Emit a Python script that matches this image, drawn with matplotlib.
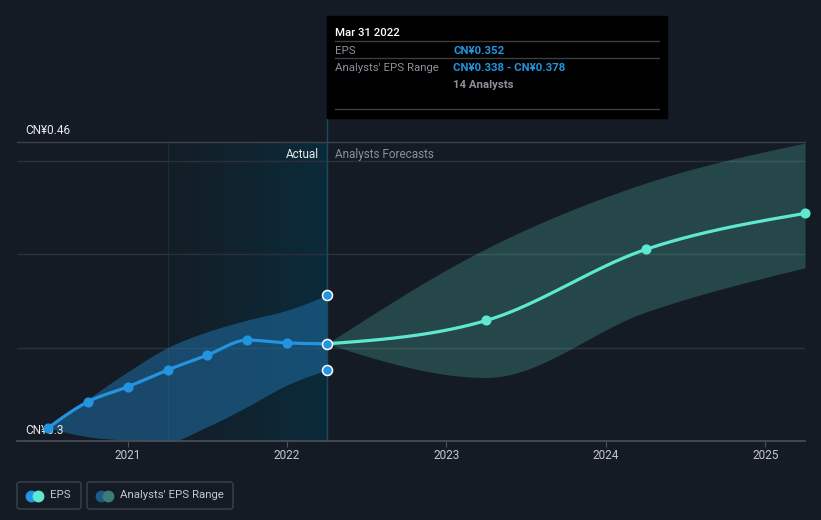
import numpy as np
import matplotlib.pyplot as plt
from matplotlib.colors import LinearSegmentedColormap
from matplotlib.patches import Rectangle, FancyBboxPatch
from matplotlib.lines import Line2D

plt.rcParams['font.family'] = ['Roboto', 'DejaVu Sans']

# ---- data (decimal years, EPS in CNY) ----
act_x = [2020.5, 2020.75, 2021.0, 2021.25, 2021.5, 2021.75, 2022.0, 2022.25]
act_eps = [0.307, 0.321, 0.329, 0.338, 0.346, 0.354, 0.3525, 0.352]
act_hi = [0.307, 0.3225, 0.337, 0.350, 0.3585, 0.3647, 0.370, 0.378]
act_lo = [0.307, 0.3023, 0.3005, 0.2997, 0.3077, 0.3184, 0.330, 0.338]

fc_x = [2022.25, 2023.25, 2024.25, 2025.25]
fc_eps = [0.352, 0.3645, 0.4025, 0.4218]
fc_hi = [0.352, 0.403, 0.438, 0.4594]
fc_lo = [0.352, 0.334, 0.369, 0.3927]

year_ticks = [2021, 2022, 2023, 2024, 2025]
y_labels = {0.46: 'CN¥0.46', 0.30: 'CN¥0.3'}

BG = '#151b24'
BLUE = '#2394df'
TEAL = '#5ee8d0'
W, H = 821, 520


def monotone(x, y, n=300):
    # monotone-x cubic curve through the points (same idea as d3.curveMonotoneX)
    x = np.asarray(x, float)
    y = np.asarray(y, float)
    h = np.diff(x)
    s = np.diff(y) / h
    m = np.zeros_like(y)
    for i in range(1, len(y) - 1):
        p = (s[i - 1] * h[i] + s[i] * h[i - 1]) / (h[i - 1] + h[i])
        m[i] = (np.sign(s[i - 1]) + np.sign(s[i])) * min(abs(s[i - 1]), abs(s[i]), 0.5 * abs(p))
    m[0] = (3 * s[0] - m[1]) / 2
    m[-1] = (3 * s[-1] - m[-2]) / 2
    xs = np.linspace(x[0], x[-1], n)
    k = np.clip(np.searchsorted(x, xs) - 1, 0, len(x) - 2)
    t = (xs - x[k]) / h[k]
    h00 = 2 * t**3 - 3 * t**2 + 1
    h10 = t**3 - 2 * t**2 + t
    h01 = -2 * t**3 + 3 * t**2
    h11 = t**3 - t**2
    ys = h00 * y[k] + h10 * h[k] * m[k] + h01 * y[k + 1] + h11 * h[k] * m[k + 1]
    return xs, ys


def fx(px):
    return px / W


def fy(py):
    return 1 - py / H


fig = plt.figure(figsize=(8.21, 5.2), dpi=100, facecolor=BG)
ax = fig.add_axes([fx(17), fy(441), fx(805) - fx(17), fy(142) - fy(441)])
ax.set_facecolor(BG)
ax.set_xlim(2020.305, 2025.25)
ax.set_ylim(0.30, 0.46)

# highlight for the last actual year
grad = np.linspace(0, 1, 256).reshape(1, -1)
ax.imshow(grad, extent=[2021.25, 2022.25, 0.30, 0.46], aspect='auto', interpolation='bilinear',
          cmap=LinearSegmentedColormap.from_list('h', ['#141d26', '#0b2b3a']), zorder=0)
ax.axvline(2021.25, color='#17303c', lw=0.8, zorder=0.5)

# grid
for g in [0.35, 0.40, 0.45]:
    ax.axhline(g, color='#2b313a', lw=1, zorder=1)
ax.axhline(0.46, color='#3c424b', lw=1, zorder=1, clip_on=False)

# actual band + line
bx, bh = monotone(act_x, act_hi)
_, bl = monotone(act_x, act_lo)
ax.fill_between(bx, bl, bh, color='#1f6ea5', alpha=0.55, lw=0, zorder=2)
lx, ly = monotone(act_x, act_eps)
ax.plot(lx, ly, color=BLUE, lw=2.3, zorder=4, solid_capstyle='round')
ax.plot(act_x[:-1], act_eps[:-1], 'o', color=BLUE, ms=6.3, zorder=5, clip_on=False)

# forecast band + line
fxs, fh = monotone(fc_x, fc_hi)
_, fl = monotone(fc_x, fc_lo)
ax.fill_between(fxs, fl, fh, color=TEAL, alpha=0.22, lw=0, zorder=2)
flx, fly = monotone(fc_x, fc_eps)
ax.plot(flx, fly, color=TEAL, lw=2.3, zorder=4)
ax.plot(fc_x[1:], fc_eps[1:], 'o', color=TEAL, ms=6.3, zorder=5, clip_on=False)

# divider at the last reported date
ax.axvline(2022.25, ymin=0, ymax=(441 - 118) / 299, color='#1b4a5e', lw=1,
           zorder=3, clip_on=False)
ax.plot([2022.25] * 3, [act_hi[-1], act_eps[-1], act_lo[-1]], 'o', ms=7.2,
        mfc=BLUE, mec='white', mew=1.1, zorder=6)

# axes styling
for s in ax.spines.values():
    s.set_visible(False)
ax.axhline(0.30, color='#4a505a', lw=1.2, zorder=3, clip_on=False)
ax.set_yticks([])
ax.set_xticks(year_ticks)
ax.set_xticklabels([str(y) for y in year_ticks], color='#c4c8ce', fontsize=8.5)
ax.tick_params(axis='x', length=4, color='#4a505a', pad=2)

ax.text(2022.2, 0.4535, 'Actual', color='#e8eaed', fontsize=8.5, ha='right', va='center', zorder=7)
ax.text(2022.3, 0.4535, 'Analysts Forecasts', color='#8a8f98', fontsize=8.5, ha='left', va='center', zorder=7)

for v, lab in y_labels.items():
    ax.text(fx(25), (fy(130) if v > 0.4 else fy(430)), lab, transform=fig.transFigure,
            color='#e8eaed', fontsize=8.5, ha='left', va='center', zorder=3)

# tooltip
fig.patches.append(Rectangle((fx(327), fy(118)), fx(667) - fx(327), fy(16) - fy(118),
                             transform=fig.transFigure, color='#000000', zorder=10))
for py in [41, 58, 109]:
    fig.lines.append(Line2D([fx(335), fx(659)], [fy(py), fy(py)], transform=fig.transFigure,
                            color='#3a3d42', lw=1, zorder=11))
tip = dict(fontsize=8.2, va='center_baseline', zorder=12)
fig.text(fx(335), fy(32), 'Mar 31 2022', color='white', weight='medium', **tip)
fig.text(fx(335), fy(50), 'EPS', color='#8a8f98', **tip)
fig.text(fx(453), fy(50), 'CN¥0.352', color=BLUE, weight='bold', **tip)
fig.text(fx(335), fy(67), "Analysts' EPS Range", color='#8a8f98', **tip)
fig.text(fx(453), fy(67), 'CN¥0.338 - CN¥0.378', color=BLUE, weight='bold', **tip)
fig.text(fx(453), fy(84), '14 Analysts', color='#8a8f98', weight='bold', **tip)

# legend
legend_items = [(17, 81, 'EPS', BLUE, TEAL), (87, 233, "Analysts' EPS Range", '#1f5a85', '#3a7d78')]
for x0, x1, lab, c1, c2 in legend_items:
    fig.patches.append(FancyBboxPatch((fx(x0), fy(509)), fx(x1) - fx(x0), fy(482) - fy(509),
                                      boxstyle='round,pad=0,rounding_size=0.004',
                                      transform=fig.transFigure, fc='none', ec='#3c424b', lw=1))
    fig.lines.append(Line2D([fx(x0 + 14)], [fy(495.5)], marker='o', ms=7.5, color=c1,
                            transform=fig.transFigure, lw=0))
    fig.lines.append(Line2D([fx(x0 + 21)], [fy(495.5)], marker='o', ms=7.5, color=c2,
                            transform=fig.transFigure, lw=0))
    fig.text(fx(x0 + 33), fy(495.5), lab, color='#c4c8ce', fontsize=8.2, va='center')

fig.savefig('out.png', dpi=100, facecolor=BG)
